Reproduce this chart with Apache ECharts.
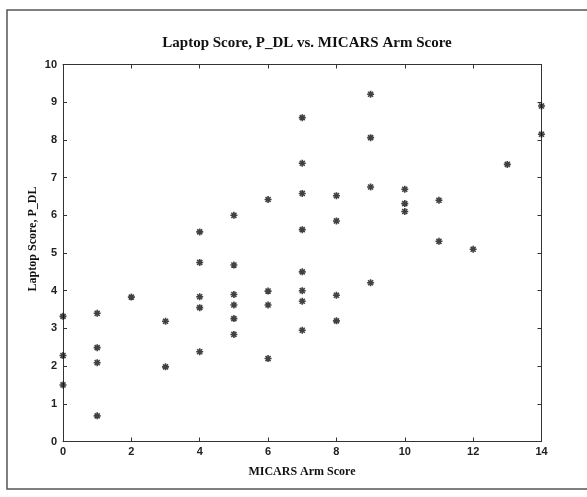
<!DOCTYPE html>
<html>
<head>
<meta charset="utf-8">
<script src="https://cdn.jsdelivr.net/npm/echarts@6/dist/echarts.min.js"></script>
<style>html,body{margin:0;padding:0;background:#fff;}#c{width:587px;height:497px;}</style>
</head>
<body>
<div id="c"></div>
<script>
const titleText = 'Laptop Score, P_DL vs. MICARS Arm Score';
const xLabel = 'MICARS Arm Score';
const yLabel = 'Laptop Score, P_DL';
const xTicks = [0, 2, 4, 6, 8, 10, 12, 14];
const yTicks = [0, 1, 2, 3, 4, 5, 6, 7, 8, 9, 10];
const micarsArm = [0,0,0, 1,1,1,1, 2, 3,3, 4,4,4,4,4, 5,5,5,5,5,5, 6,6,6,6, 7,7,7,7,7,7,7,7, 8,8,8,8, 9,9,9,9, 10,10,10, 11,11, 12, 13, 14,14];
const laptopPDL = [3.32,2.28,1.50, 3.40,2.49,2.09,0.68, 3.83, 3.19,1.98, 5.56,4.75,3.84,3.55,2.38, 6.00,4.68,3.90,3.62,3.26,2.84, 6.42,3.99,3.62,2.20, 8.59,7.38,6.58,5.62,4.50,4.00,3.72,2.95, 6.52,5.85,3.88,3.20, 9.21,8.06,6.75,4.21, 6.69,6.31,6.10, 6.40,5.31, 5.10, 7.35, 8.90,8.15];

const points = micarsArm.map((x, i) => [x, laptopPDL[i]]);
const chart = echarts.init(document.getElementById('c'), null, {renderer: 'canvas'});
const asterisk = 'path://M0,-5L0,5M-5,0L5,0M-3.6,-3.6L3.6,3.6M-3.6,3.6L3.6,-3.6';
const axisCol = '#333';
const tickFont = {fontFamily: 'Liberation Sans', fontSize: 11, fontWeight: 'bold', color: '#222'};

function mkAxis(type, pos, ticks, interval, showLabel, margin) {
  return {
    type: 'value', min: ticks[0], max: ticks[ticks.length - 1], interval: interval, position: pos,
    axisLine: {show: true, onZero: false, lineStyle: {color: axisCol, width: 1}},
    axisTick: {show: true, inside: true, length: 4, lineStyle: {color: axisCol}},
    axisLabel: showLabel ? Object.assign({margin: margin}, tickFont) : {show: false},
    splitLine: {show: false}
  };
}

chart.setOption({
  animation: false,
  backgroundColor: '#fff',
  title: {
    text: titleText, left: 302, top: 31, textAlign: 'center',
    textStyle: {fontFamily: 'Liberation Serif', fontSize: 15, fontWeight: 'bold', color: '#111'}
  },
  graphic: [
    {type: 'rect', shape: {x: 7, y: 10, width: 600, height: 479}, style: {fill: 'none', stroke: '#555', lineWidth: 1.5}, silent: true, z: -1},
    {type: 'text', x: 302, y: 472, style: {text: xLabel, font: 'bold 12px "Liberation Serif"', fill: '#111', textAlign: 'center', textVerticalAlign: 'middle'}},
    {type: 'text', x: 33, y: 239, rotation: Math.PI / 2, style: {text: yLabel, font: 'bold 12px "Liberation Serif"', fill: '#111', textAlign: 'center', textVerticalAlign: 'middle'}}
  ],
  grid: {left: 63, right: 45.5, top: 64.5, bottom: 55.5, show: false},
  xAxis: [
    mkAxis('x', 'bottom', xTicks, 2, true, 5),
    mkAxis('x', 'top', xTicks, 2, false, 0)
  ],
  yAxis: [
    mkAxis('y', 'left', yTicks, 1, true, 6),
    mkAxis('y', 'right', yTicks, 1, false, 0)
  ],
  series: [{
    type: 'scatter', xAxisIndex: 0, yAxisIndex: 0, data: points,
    symbol: asterisk, symbolSize: 7, clip: false,
    itemStyle: {color: '#111', borderColor: '#111', borderWidth: 1.6}
  }, {
    type: 'scatter', xAxisIndex: 1, yAxisIndex: 1, data: [], silent: true
  }]
});
</script>
</body>
</html>
